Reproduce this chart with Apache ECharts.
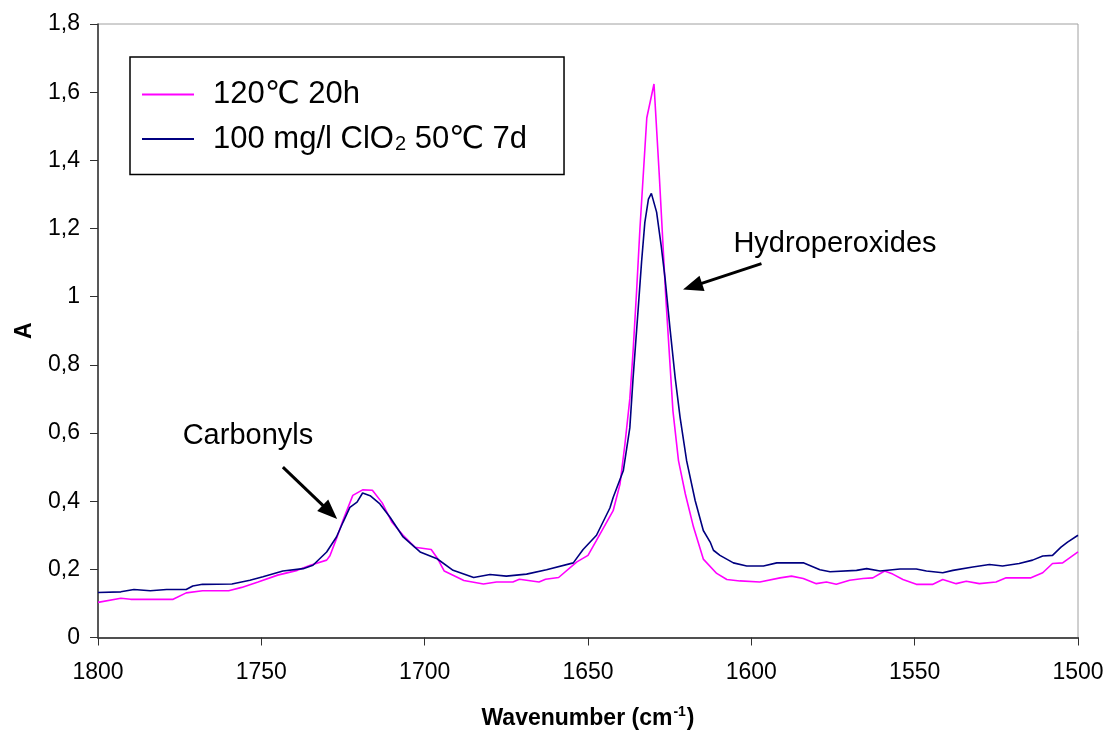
<!DOCTYPE html>
<html>
<head>
<meta charset="utf-8">
<script src="https://cdn.jsdelivr.net/npm/echarts@6/dist/echarts.min.js"></script>
<style>
html,body{margin:0;padding:0;background:#fff;}
#chart{width:1108px;height:735px;}
</style>
</head>
<body>
<div id="chart"></div>
<script>
// ---- Data ----
const seriesNames = ['120℃ 20h', '100 mg/l ClO{sub|2} 50℃ 7d'];

const heatWavenumber = [1800,1793,1790,1777,1773,1768,1760,1756,1751,1745,1739,1735,1730,1729,1727,1725,1722,1719,1716,1713,1710,1706.6,1703,1698,1696,1694,1688,1682,1678,1673,1671,1665,1663,1659,1653.4,1650,1647.4,1642.3,1640.2,1638.7,1637.2,1636.2,1635.1,1634.1,1632,1629.8,1628.2,1626.2,1624,1622.3,1620.2,1617.7,1614.7,1610.6,1607.5,1603.5,1597.4,1591.2,1587.7,1584.1,1580.1,1577,1574,1569.9,1565.8,1562.8,1559.2,1556.7,1553.6,1549.5,1544.4,1541.4,1537.3,1534.2,1530.2,1525.1,1522,1514.4,1510.8,1507.8,1504.7,1500];
const heatAbsorbance = [0.103,0.115,0.112,0.112,0.131,0.137,0.137,0.147,0.163,0.183,0.197,0.212,0.227,0.24,0.29,0.344,0.417,0.433,0.432,0.395,0.338,0.30,0.265,0.258,0.231,0.195,0.167,0.157,0.163,0.163,0.171,0.163,0.171,0.176,0.222,0.241,0.285,0.372,0.45,0.567,0.70,0.84,1.02,1.20,1.525,1.624,1.36,1.0,0.665,0.519,0.421,0.324,0.230,0.188,0.170,0.166,0.163,0.175,0.180,0.173,0.158,0.163,0.156,0.168,0.173,0.175,0.195,0.186,0.170,0.156,0.156,0.170,0.158,0.165,0.158,0.163,0.175,0.175,0.190,0.217,0.219,0.251];

const clo2Wavenumber = [1800,1793,1789,1784,1779,1773,1771,1768,1759,1753.5,1749.5,1743.4,1737.2,1734.2,1730,1727,1725,1722.9,1720.7,1719,1716.7,1713.7,1710.6,1706.6,1701.4,1696.2,1691.3,1685,1680,1675,1668.8,1662.7,1654.5,1651.5,1647.4,1643.3,1642.3,1639.2,1637.2,1636.2,1634.7,1633.6,1632.6,1631.5,1630.6,1630.2,1629,1627.6,1626.4,1624.9,1623.3,1621.8,1619.8,1617.2,1614.7,1612.6,1611.6,1609.6,1605.5,1601.4,1596.3,1592.2,1584.1,1579,1575.9,1567.8,1564.7,1560.6,1554.5,1549.5,1546.4,1541.4,1538.3,1532.2,1527.1,1523.1,1518,1513.9,1510.8,1507.8,1505.2,1503.2,1500];
const clo2Absorbance = [0.132,0.134,0.141,0.137,0.141,0.141,0.151,0.156,0.157,0.168,0.178,0.195,0.202,0.212,0.251,0.295,0.338,0.382,0.397,0.424,0.416,0.392,0.353,0.295,0.251,0.231,0.197,0.176,0.185,0.180,0.186,0.199,0.219,0.258,0.300,0.380,0.411,0.489,0.615,0.761,0.956,1.102,1.218,1.286,1.303,1.301,1.248,1.150,1.053,0.907,0.761,0.645,0.518,0.402,0.314,0.280,0.256,0.241,0.219,0.210,0.210,0.219,0.219,0.199,0.193,0.197,0.202,0.195,0.201,0.201,0.195,0.190,0.197,0.207,0.214,0.210,0.217,0.227,0.239,0.241,0.265,0.280,0.300];

const annotationTexts = ['Carbonyls', 'Hydroperoxides'];
const annotationAt = [[1754.1, 0.592], [1574.4, 1.155]];
const arrowFrom = [[1743.4, 0.50], [1596.9, 1.097]];
const arrowTo = [[1729.0, 0.368], [1618.0, 1.030]];

const xMin = 1500, xMax = 1800, xStep = 50;
const yMin = 0, yMax = 1.8, yStep = 0.2;

// ---- Chart ----
const FONT = '"Liberation Sans", Arial, "DejaVu Sans", sans-serif';
const pairs = (xs, ys) => xs.map((x, i) => [x, ys[i]]);

const chart = echarts.init(document.getElementById('chart'), null, {renderer: 'canvas'});
chart.setOption({
  animation: false,
  backgroundColor: '#ffffff',
  textStyle: {fontFamily: FONT, color: '#000'},
  grid: {left: 98, right: 30, top: 24, bottom: 94, show: true, borderColor: '#a0a0a0', borderWidth: 1, backgroundColor: 'transparent'},
  legend: {
    orient: 'vertical', left: 130, top: 57,
    padding: [22, 37, 20, 12],
    itemGap: 9,
    itemWidth: 52, itemHeight: 2, icon: 'rect',
    borderColor: '#000', borderWidth: 1.5,
    formatter: n => n,
    textStyle: {
      fontFamily: FONT, fontSize: 31, color: '#000', lineHeight: 30, padding: [0, 0, 0, 14],
      rich: {sub: {fontFamily: FONT, fontSize: 20, color: '#000', verticalAlign: 'bottom', lineHeight: 30, padding: [15, 0, 0, 1]}}
    }
  },
  xAxis: {
    type: 'value', inverse: true, min: xMin, max: xMax, interval: xStep,
    name: 'Wavenumber (cm{sup|-1})', nameLocation: 'middle', nameGap: 68,
    nameTextStyle: {fontFamily: FONT, fontSize: 23, fontWeight: 'bold', color: '#000',
      rich: {sup: {fontFamily: FONT, fontSize: 14, fontWeight: 'bold', color: '#000', verticalAlign: 'top', padding: [0, 1, 12, 1]}}},
    axisLine: {show: true, onZero: false, lineStyle: {color: '#505050', width: 2}},
    axisTick: {show: true, inside: false, length: 8, lineStyle: {color: '#303030', width: 1}},
    axisLabel: {fontFamily: FONT, fontSize: 23, color: '#000', margin: 24, formatter: v => String(v)},
    splitLine: {show: false}
  },
  yAxis: {
    type: 'value', min: yMin, max: yMax, interval: yStep,
    name: 'A', nameLocation: 'middle', nameGap: 62, nameRotate: 90,
    nameTextStyle: {fontFamily: FONT, fontSize: 23, fontWeight: 'bold', color: '#000'},
    axisLine: {show: true, onZero: false, lineStyle: {color: '#303030', width: 1.5}},
    axisTick: {show: true, inside: false, length: 8, lineStyle: {color: '#303030', width: 1}},
    axisLabel: {fontFamily: FONT, fontSize: 23, color: '#000', margin: 18,
      formatter: v => String(Math.round(v * 10) / 10).replace('.', ',')},
    splitLine: {show: false}
  },
  series: [
    {
      name: seriesNames[0], type: 'line', data: pairs(heatWavenumber, heatAbsorbance),
      symbol: 'none', smooth: false, color: '#ff00ff',
      lineStyle: {color: '#ff00ff', width: 1.6}, z: 2,
      markPoint: {
        symbol: 'circle', symbolSize: 0, silent: true,
        label: {show: true, position: 'inside', fontFamily: FONT, fontSize: 29, color: '#000', formatter: p => p.name},
        data: annotationTexts.map((t, i) => ({name: t, coord: annotationAt[i]}))
      },
      markLine: {
        silent: true, symbol: ['none', 'triangle'], symbolSize: [16, 20], precision: 4,
        label: {show: false},
        lineStyle: {color: '#000', width: 3, type: 'solid'},
        emphasis: {disabled: true},
        data: arrowFrom.map((f, i) => [{coord: f}, {coord: arrowTo[i]}])
      }
    },
    {
      name: seriesNames[1], type: 'line', data: pairs(clo2Wavenumber, clo2Absorbance),
      symbol: 'none', smooth: false, color: '#000080',
      lineStyle: {color: '#000080', width: 1.6}, z: 3
    }
  ]
});
</script>
</body>
</html>
